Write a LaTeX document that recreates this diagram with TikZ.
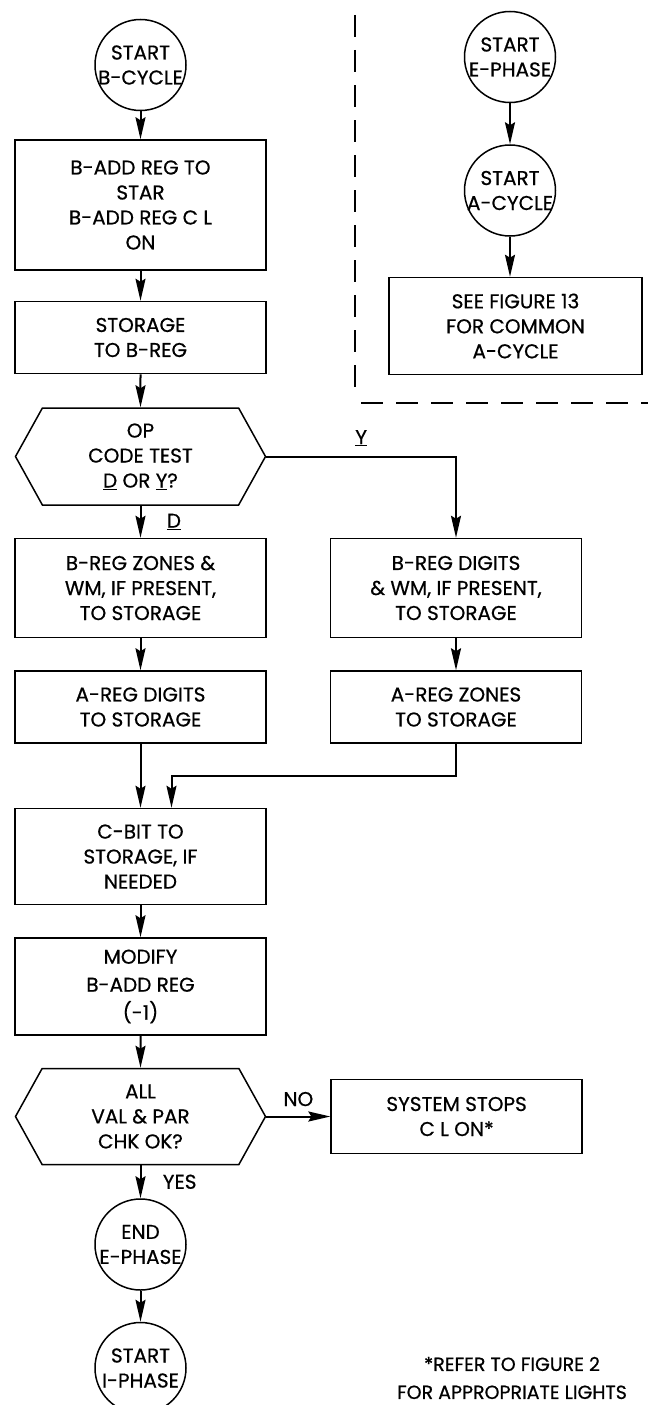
\documentclass[tikz,border=0pt]{standalone}
\usepackage{fontspec}
\setmainfont{Poppins}[FakeBold=0.6]
\usetikzlibrary{positioning,shapes.symbols,arrows.meta,calc}

\tikzset{
  box/.style={draw, rectangle, line width=1.5pt, minimum width=251pt, align=center, inner sep=2pt},
  term/.style={draw, circle, line width=1.5pt, minimum size=91pt, inner sep=-9pt, align=center},
  test/.style={draw, signal, signal to=west and east, signal pointer angle=122, line width=1.5pt,
    minimum width=250pt, minimum height=97pt, align=center, inner sep=2pt},
  flow/.style={line width=2pt, -{Stealth[length=22pt,width=10pt,inset=3pt]}},
  border/.style={line width=1.5pt, dash pattern=on 22pt off 13pt}
}

\begin{document}
\begin{tikzpicture}[x=1pt, y=1pt, font=\fontsize{20}{25}\selectfont]
    \useasboundingbox (0,0) rectangle (648,-1405);
    % main column
    \node[term] (bstart) at (140.5,-65) {START\\B-CYCLE};
    \node[box, minimum height=130pt, below=28pt of bstart] (baddr) {B-ADD REG TO\\STAR\\B-ADD REG C L\\ON};
    \draw[flow] (bstart) -- (baddr);
    \node[box, minimum height=72pt, below=30pt of baddr] (stob) {STORAGE\\TO B-REG};
    \draw[flow] (baddr) -- (stob);
    \node[test, below=33pt of stob] (optest) {OP\\CODE TEST\\\underline{D} OR \underline{Y}?};
    \draw[flow] (stob) -- (optest);
    \node[box, minimum height=99pt, below=32pt of optest] (bzones) {B-REG ZONES \&\\WM, IF PRESENT,\\TO STORAGE};
    \draw[flow] (optest.south) -- node[right=22pt]{\underline{D}} (bzones);
    \node[box, minimum height=72pt, below=32pt of bzones] (adigits) {A-REG DIGITS\\TO STORAGE};
    \draw[flow] (bzones) -- (adigits);
    % right branch
    \node[box, minimum height=99pt, right=63pt of bzones] (bdigits) {B-REG DIGITS\\\& WM, IF PRESENT,\\TO STORAGE};
    \draw[flow] (optest.east) -| node[pos=0.25, above=6pt]{\underline{Y}} (bdigits.north);
    \node[box, minimum height=72pt, below=32pt of bdigits] (azones) {A-REG ZONES\\TO STORAGE};
    \draw[flow] (bdigits) -- (azones);
    % join
    \node[box, minimum height=96pt, below=64pt of adigits] (cbit) {C-BIT TO\\STORAGE, IF\\NEEDED};
    \draw[flow] (adigits) -- (cbit);
    \coordinate (join) at ($(cbit.north)+(31,32)$);
    \draw[flow] (azones.south) |- (join) -- (join |- cbit.north);
    \node[box, minimum height=97pt, below=32pt of cbit] (modify) {MODIFY\\[3pt]B-ADD REG\\[3pt](-1)};
    \draw[flow] (cbit) -- (modify);
    \node[test, minimum height=96pt, below=32pt of modify] (chk) {ALL\\VAL \& PAR\\CHK OK?};
    \draw[flow] (modify) -- (chk);
    \node[box, minimum height=74pt, right=64pt of chk] (stops) {SYSTEM STOPS\\C L ON*};
    \draw[flow] (chk.east) -- node[above=6pt]{NO} (stops);
    \node[term, below=33pt of chk] (eend) {END\\E-PHASE};
    \draw[flow] (chk.south) -- node[right=18pt]{YES} (eend);
    \node[term, below=31pt of eend] (istart) {START\\I-PHASE};
    \draw[flow] (eend) -- (istart);
    % e-phase corner
    \node[term] (estart) at (510,-57) {START\\E-PHASE};
    \node[term, below=41pt of estart] (acycle) {START\\A-CYCLE};
    \draw[flow] (estart) -- (acycle);
    \node[box, minimum width=253pt, minimum height=97pt, below=40pt of acycle, xshift=5.5pt] (common) {SEE FIGURE 13\\FOR COMMON\\A-CYCLE};
    \draw[flow] (acycle.south) -- (acycle.south |- common.north);
    \draw[border] (355,-15) -- (355,-394);
    \draw[border] (361,-403) -- (648,-403);
    % footnote
    \node[align=center, inner sep=0pt, font=\fontsize{19}{28}\selectfont] (note) at (512,-1378) {*REFER TO FIGURE 2\\FOR APPROPRIATE LIGHTS};
\end{tikzpicture}
\end{document}
